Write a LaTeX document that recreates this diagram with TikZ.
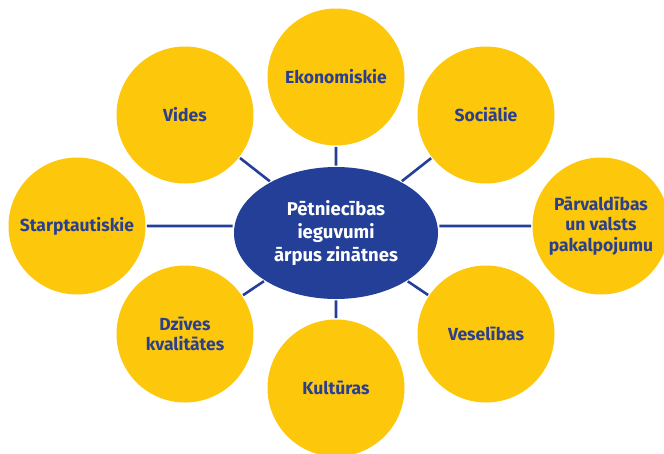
\documentclass[tikz,border=0pt]{standalone}
\usepackage{fontspec}
\setmainfont{Fira Sans}
\usepackage{tikz}
\usetikzlibrary{shapes}
\definecolor{topicyellow}{HTML}{FDC70C}
\definecolor{hubblue}{HTML}{233F98}
\definecolor{labelblue}{HTML}{2A3F8E}

\begin{document}
\begin{tikzpicture}[x=1pt, y=-1pt, line width=2.6pt, draw=hubblue]
\tikzstyle{topic}=[circle, fill=topicyellow, minimum size=137pt, inner sep=0pt, text=labelblue, align=center, font=\fontsize{17.5}{20.5}\selectfont\bfseries]
\tikzstyle{hub}=[ellipse, fill=hubblue, minimum width=204pt, minimum height=132pt, inner sep=0pt, text=white, align=center, font=\fontsize{18.5}{23}\selectfont\bfseries]
\useasboundingbox (0,0) rectangle (664,453);

\node[hub] (hub) at (336,233) {Pētniecības\\ieguvumi\\ārpus zinātnes};

\node[topic] (eco) at (336,77) {Ekonomiskie};
\node[topic] (soc) at (486,115) {Sociālie};
\node[topic] (parv) at (601,226) {Pārvaldības\\un valsts\\pakalpojumu};
\node[topic] (ves) at (486,334) {Veselības};
\node[topic] (kult) at (336,388) {Kultūras};
\node[topic] (dziv) at (185,334) {Dzīves\\kvalitātes};
\node[topic] (star) at (77,226) {Starptautiskie};
\node[topic] (vid) at (185,115) {Vides};

\path[draw]
(hub) -- (eco)
(hub) -- (soc)
(parv.west) -- (parv.west -| hub.east)
(hub) -- (ves)
(hub) -- (kult)
(hub) -- (dziv)
(star.east) -- (star.east -| hub.west)
(hub) -- (vid);
\end{tikzpicture}
\end{document}
